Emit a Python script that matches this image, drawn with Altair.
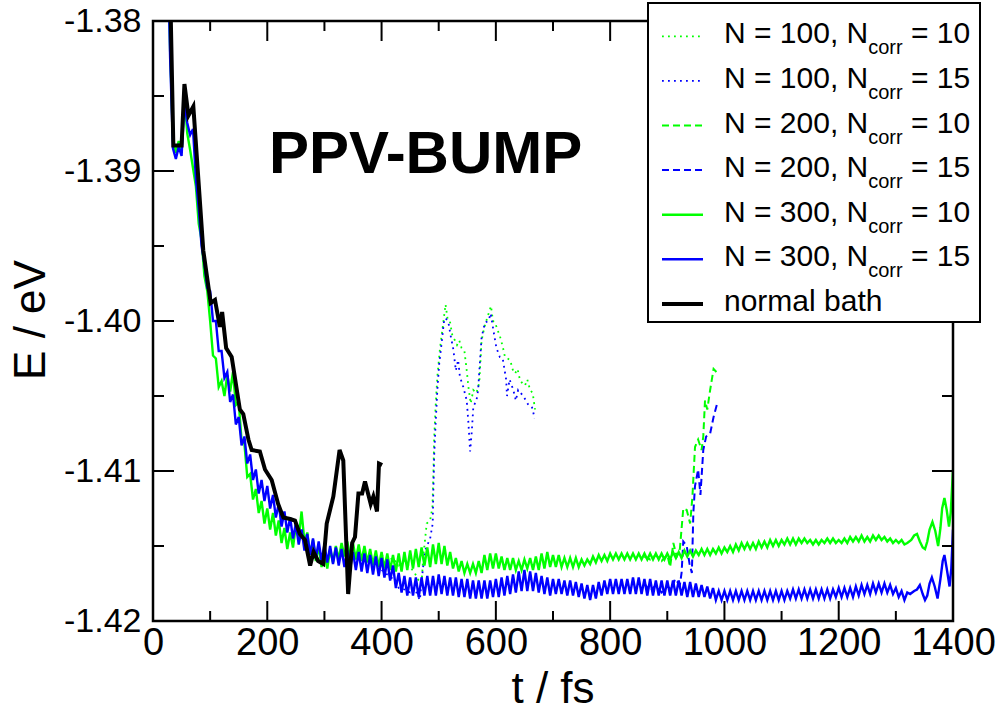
import altair as alt
import pandas as pd

FONT = "Liberation Sans"
GREEN = "#00ff00"
BLUE = "#0000ff"

# ---------------- data (energies in meV, times in fs) ----------------
# N = 300 runs: regular 5 fs grid starting at 20 fs (26 rows x 10 values), then an explicit tail
GRID_T0, GRID_STEP = 20, 5

g300_meV = [
    -1366.0, -1374.0, -1382.0, -1388.0, -1388.8, -1388.0, -1388.8, -1385.0, -1387.5, -1388.6,
    -1389.8, -1391.0, -1393.5, -1394.6, -1397.0, -1398.0, -1400.0, -1402.3, -1402.5, -1404.4,
    -1404.0, -1405.0, -1403.6, -1404.7, -1403.4, -1405.6, -1405.4, -1408.0, -1408.2, -1410.4,
    -1410.2, -1411.9, -1411.2, -1412.8, -1412.0, -1413.5, -1412.5, -1413.9, -1412.8, -1414.3,
    -1413.3, -1414.8, -1413.8, -1415.2, -1414.1, -1415.1, -1413.6, -1414.5, -1412.7, -1414.7,
    -1414.1, -1415.6, -1414.6, -1416.0, -1415.0, -1416.4, -1415.4, -1416.5, -1415.2, -1416.1,
    -1415.0, -1415.9, -1414.8, -1415.7, -1414.7, -1415.8, -1414.8, -1415.9, -1414.9, -1416.0,
    -1415.0, -1416.1, -1415.2, -1416.3, -1415.3, -1416.4, -1415.4, -1416.5, -1415.5, -1416.6,
    -1415.6, -1416.7, -1415.5, -1416.7, -1415.4, -1416.6, -1415.3, -1416.5, -1415.2, -1416.4,
    -1415.1, -1416.3, -1415.1, -1416.4, -1414.9, -1416.2, -1414.8, -1416.2, -1415.0, -1416.3,
    -1415.4, -1416.5, -1415.8, -1416.7, -1416.0, -1416.8, -1416.2, -1416.8, -1416.2, -1416.8,
    -1416.0, -1416.8, -1415.6, -1416.6, -1415.5, -1416.5, -1415.5, -1416.5, -1415.7, -1416.6,
    -1415.8, -1416.6, -1415.8, -1416.6, -1416.0, -1416.6, -1415.9, -1416.5, -1415.8, -1416.6,
    -1415.7, -1416.6, -1415.5, -1416.5, -1415.4, -1416.4, -1415.6, -1416.4, -1415.6, -1416.4,
    -1415.8, -1416.4, -1415.8, -1416.4, -1415.8, -1416.4, -1415.9, -1416.3, -1415.9, -1416.2,
    -1415.7, -1416.1, -1415.6, -1416.0, -1415.6, -1416.0, -1415.5, -1415.9, -1415.5, -1415.9,
    -1415.5, -1415.9, -1415.5, -1415.9, -1415.5, -1415.9, -1415.5, -1415.9, -1415.5, -1415.9,
    -1415.5, -1415.9, -1415.5, -1415.9, -1415.5, -1415.9, -1415.5, -1415.9, -1415.4, -1415.8,
    -1415.4, -1415.8, -1415.3, -1415.7, -1415.3, -1415.7, -1415.3, -1415.6, -1415.2, -1415.6,
    -1415.2, -1415.6, -1415.2, -1415.5, -1415.1, -1415.5, -1415.1, -1415.4, -1415.0, -1415.4,
    -1414.9, -1415.3, -1414.8, -1415.2, -1414.8, -1415.2, -1414.8, -1415.2, -1414.7, -1415.1,
    -1414.7, -1415.1, -1414.6, -1415.0, -1414.6, -1415.0, -1414.6, -1414.9, -1414.5, -1414.9,
    -1414.5, -1414.9, -1414.5, -1414.8, -1414.5, -1414.8, -1414.6, -1414.9, -1414.6, -1414.9,
    -1414.6, -1414.8, -1414.5, -1414.8, -1414.5, -1414.8, -1414.6, -1414.8, -1414.5, -1414.8,
    -1414.4, -1414.7, -1414.4, -1414.7, -1414.3, -1414.7, -1414.4, -1414.7, -1414.3, -1414.6,
    -1414.3, -1414.6, -1414.4, -1414.7, -1414.5, -1414.8, -1414.6, -1414.8, -1414.6, -1414.9,
]
g300_tail_t = [1320, 1327, 1332, 1337, 1342, 1347, 1351, 1355, 1359, 1364, 1369, 1374, 1378, 1381, 1385, 1389, 1393, 1396, 1400]
g300_tail_meV = [-1414.8, -1414.6, -1414.3, -1414.2, -1414.7, -1415.1, -1415.2, -1414.7, -1413.9, -1413.4,
                 -1414.0, -1415.0, -1413.8, -1412.5, -1411.8, -1412.6, -1413.7, -1412.8, -1409.9]

b300_meV = [
    -1366.0, -1374.0, -1382.5, -1388.5, -1389.2, -1388.4, -1389.0, -1385.5, -1386.8, -1387.6,
    -1387.2, -1390.5, -1392.5, -1395.0, -1396.2, -1397.8, -1398.0, -1400.0, -1400.0, -1402.0,
    -1402.0, -1403.8, -1403.4, -1405.4, -1404.9, -1406.9, -1406.4, -1408.3, -1407.7, -1409.5,
    -1408.9, -1410.6, -1409.9, -1411.5, -1410.6, -1412.0, -1411.0, -1412.5, -1411.6, -1413.1,
    -1412.2, -1413.7, -1412.7, -1414.1, -1413.1, -1414.5, -1413.5, -1414.9, -1413.9, -1415.3,
    -1414.2, -1415.6, -1414.5, -1415.8, -1414.7, -1416.0, -1414.9, -1416.1, -1415.0, -1416.2,
    -1415.1, -1416.3, -1415.2, -1416.4, -1415.3, -1416.5, -1415.4, -1416.6, -1415.4, -1416.7,
    -1415.5, -1416.8, -1415.6, -1416.9, -1415.7, -1417.0, -1415.8, -1417.1, -1415.9, -1417.3,
    -1416.3, -1417.8, -1416.8, -1418.1, -1417.0, -1418.3, -1417.1, -1418.3, -1417.1, -1418.4,
    -1417.1, -1418.3, -1417.0, -1418.3, -1417.0, -1418.3, -1416.9, -1418.2, -1417.0, -1418.3,
    -1417.1, -1418.3, -1417.1, -1418.4, -1417.2, -1418.4, -1417.2, -1418.5, -1417.3, -1418.5,
    -1417.3, -1418.5, -1417.3, -1418.5, -1417.3, -1418.4, -1417.2, -1418.4, -1417.1, -1418.3,
    -1417.0, -1418.2, -1416.9, -1418.1, -1416.7, -1418.0, -1416.6, -1418.0, -1416.7, -1418.0,
    -1416.8, -1418.1, -1417.0, -1418.2, -1417.1, -1418.3, -1417.2, -1418.2, -1417.2, -1418.2,
    -1417.3, -1418.3, -1417.3, -1418.3, -1417.4, -1418.4, -1417.5, -1418.5, -1417.6, -1418.6,
    -1417.6, -1418.5, -1417.4, -1418.3, -1417.3, -1418.2, -1417.2, -1418.2, -1417.2, -1418.2,
    -1417.2, -1418.2, -1417.2, -1418.2, -1417.1, -1418.2, -1417.1, -1418.2, -1417.2, -1418.3,
    -1417.2, -1418.3, -1417.3, -1418.3, -1417.3, -1418.3, -1417.3, -1418.3, -1417.3, -1418.3,
    -1417.3, -1418.3, -1417.4, -1418.4, -1417.4, -1418.4, -1417.5, -1418.4, -1417.6, -1418.4,
    -1417.7, -1418.5, -1417.8, -1418.6, -1418.0, -1418.6, -1418.0, -1418.6, -1418.0, -1418.6,
    -1418.0, -1418.6, -1418.0, -1418.6, -1418.0, -1418.6, -1418.0, -1418.6, -1418.0, -1418.6,
    -1418.0, -1418.6, -1418.0, -1418.6, -1418.0, -1418.6, -1418.0, -1418.6, -1418.0, -1418.5,
    -1417.9, -1418.5, -1417.9, -1418.5, -1417.9, -1418.5, -1417.9, -1418.5, -1417.9, -1418.5,
    -1417.9, -1418.5, -1417.9, -1418.5, -1417.9, -1418.4, -1417.8, -1418.4, -1417.8, -1418.4,
    -1417.8, -1418.4, -1417.7, -1418.3, -1417.6, -1418.2, -1417.6, -1418.2, -1417.5, -1418.1,
    -1417.5, -1418.1, -1417.5, -1418.1, -1417.6, -1418.2, -1417.8, -1418.4, -1418.0, -1418.6,
]
b300_tail_t = [1320, 1325, 1332, 1337, 1342, 1347, 1351, 1355, 1359, 1363, 1368, 1373, 1378, 1382, 1385, 1389, 1394, 1397, 1400]
b300_tail_meV = [-1418.1, -1418.2, -1418.0, -1417.9, -1417.6, -1418.2, -1418.6, -1418.3, -1417.5, -1417.1,
                 -1417.7, -1418.5, -1417.2, -1416.0, -1415.6, -1416.5, -1417.7, -1416.5, -1413.9]

# N = 100 runs (dotted)
g100_t = [400, 410, 420, 430, 440, 450, 458, 465, 470, 473, 479, 485, 489, 490.6, 492, 494.6, 497.6, 502, 507, 512,
          516, 520, 524, 528.5, 532, 536, 540, 545, 549, 552, 556, 560.6, 566, 571, 575, 580, 584, 591.5, 595, 598.5,
          603, 607, 612, 616, 625, 630, 633.5, 638, 642, 647, 651, 655, 660, 664.5, 668.5]
g100_meV = [-1415.6, -1416.0, -1415.8, -1416.3, -1416.0, -1416.4, -1416.8, -1417.3, -1417.5, -1415.7, -1413.5, -1413.3,
            -1412.4, -1410.4, -1407.9, -1405.7, -1403.7, -1401.9, -1400.4, -1398.9, -1400.0, -1400.1, -1401.0, -1401.3,
            -1401.6, -1401.3, -1401.8, -1402.0, -1403.3, -1404.4, -1405.5, -1404.6, -1404.8, -1404.1, -1401.3, -1400.4,
            -1399.9, -1399.0, -1400.0, -1400.1, -1400.6, -1401.0, -1401.7, -1402.4, -1402.6, -1403.3, -1403.5, -1403.2,
            -1403.9, -1404.2, -1404.3, -1403.9, -1404.6, -1404.8, -1405.9]
b100_t = [400, 410, 420, 430, 440, 450, 458, 463, 467, 471, 476, 485, 489.5, 490.6, 492, 494.6, 497.6, 501, 505, 509,
          512, 517, 521, 525.6, 530, 534, 537, 543, 549, 552, 555, 558, 560.6, 566, 569, 572, 575, 581, 587, 591,
          595.6, 601, 607, 612, 618, 619.5, 624, 630.6, 635, 639, 648, 657, 663, 668]
b100_meV = [-1416.6, -1416.9, -1417.2, -1417.8, -1417.9, -1418.1, -1417.8, -1418.3, -1418.6, -1417.0, -1415.3, -1414.5,
            -1413.5, -1411.3, -1409.0, -1406.8, -1404.6, -1402.8, -1401.5, -1400.1, -1399.8, -1400.1, -1401.0, -1401.9,
            -1403.3, -1402.6, -1403.7, -1404.4, -1405.3, -1406.8, -1408.7, -1407.3, -1405.7, -1405.3, -1404.6, -1402.8,
            -1401.1, -1400.1, -1400.0, -1399.5, -1400.6, -1401.8, -1402.4, -1402.5, -1403.9, -1405.0, -1403.9, -1404.6,
            -1405.3, -1404.6, -1405.0, -1405.6, -1405.7, -1406.5]

# N = 200 runs (dashed)
g200_t = [860, 870, 880, 890, 900, 905, 910.6, 916.5, 922, 928, 934, 940, 944, 948.5, 954, 960, 963, 966, 970, 975, 981, 986]
g200_meV = [-1415.7, -1415.9, -1415.6, -1416.0, -1415.6, -1416.4, -1414.8, -1415.7, -1415.2, -1412.5, -1412.6,
            -1413.5, -1411.7, -1408.4, -1407.9, -1408.6, -1407.7, -1405.3, -1405.9, -1404.6, -1403.2, -1403.4]
b200_t = [860, 870, 880, 890, 900, 908, 913.5, 922, 925, 928, 934, 939, 943, 945.6, 948.5, 954, 958, 963, 968, 975, 981, 988]
b200_meV = [-1417.5, -1418.0, -1417.6, -1418.1, -1417.7, -1417.9, -1417.2, -1417.6, -1416.8, -1414.7, -1415.0,
            -1416.2, -1416.8, -1412.8, -1411.0, -1409.9, -1411.6, -1408.6, -1407.7, -1407.5, -1406.4, -1405.4]

# normal bath (black)
bath_t = [27, 35.6, 50, 55, 62, 70.6, 88, 101, 108.5, 117, 121, 128, 137.7, 152, 158, 167, 172.7, 187, 196, 207.7,
          219, 228, 240, 248.5, 257, 266, 275, 281, 289, 298, 304, 315.6, 326.5, 333, 341.5, 348.5, 353.5, 359.5,
          366, 371, 381, 385.6, 392, 395.5, 401]
bath_meV = [-1372.0, -1388.3, -1388.3, -1384.2, -1386.3, -1385.7, -1395.3, -1398.8, -1398.6, -1400.4, -1399.4,
            -1401.8, -1402.4, -1405.9, -1406.2, -1407.9, -1408.6, -1408.7, -1409.9, -1410.6, -1412.2, -1413.1,
            -1413.2, -1413.3, -1414.2, -1414.6, -1416.3, -1415.4, -1416.0, -1416.2, -1413.5, -1411.7, -1408.6,
            -1409.3, -1418.2, -1414.8, -1414.4, -1411.5, -1411.5, -1410.7, -1412.2, -1411.7, -1412.7, -1409.5,
            -1409.6]

# axes
X_MAJOR = [0, 200, 400, 600, 800, 1000, 1200, 1400]
X_MINOR = [100, 300, 500, 700, 900, 1100, 1300]
Y_MAJOR = [-1.42, -1.41, -1.40, -1.39, -1.38]
Y_MINOR = [-1.415, -1.405, -1.395, -1.385]

ANNOT_T, ANNOT_E, ANNOT_TEXT = [477], [-1.3901], ["PPV-BUMP"]

LEGEND_ROWS = [
    ("N = 100, N", "corr", "= 10", GREEN, [1.8, 4.2], 1.8),
    ("N = 100, N", "corr", "= 15", BLUE, [1.8, 4.2], 1.8),
    ("N = 200, N", "corr", "= 10", GREEN, [7, 4], 2),
    ("N = 200, N", "corr", "= 15", BLUE, [7, 4], 2),
    ("N = 300, N", "corr", "= 10", GREEN, None, 2.5),
    ("N = 300, N", "corr", "= 15", BLUE, None, 2.5),
    ("normal bath", None, None, "black", None, 4),
]


def frame(t, meV):
    return pd.DataFrame({"t": t, "E": [v / 1000.0 for v in meV]})


def grid_t(n):
    return [GRID_T0 + GRID_STEP * i for i in range(n)]


df_g300 = frame(grid_t(len(g300_meV)) + g300_tail_t, g300_meV + g300_tail_meV)
df_b300 = frame(grid_t(len(b300_meV)) + b300_tail_t, b300_meV + b300_tail_meV)
df_g100 = frame(g100_t, g100_meV)
df_b100 = frame(b100_t, b100_meV)
df_g200 = frame(g200_t, g200_meV)
df_b200 = frame(b200_t, b200_meV)
df_bath = frame(bath_t, bath_meV)

W, H = 800, 600
xscale = alt.Scale(domain=[0, 1400], nice=False, zero=False)
yscale = alt.Scale(domain=[-1.42, -1.38], nice=False, zero=False)

x_axis = alt.Axis(values=X_MAJOR, format="d", ticks=False, tickSize=0, domain=False, grid=False,
                  labelFont=FONT, labelFontSize=38, labelColor="black", labelPadding=3,
                  labelFlush=False, labelOverlap=False, title=None)
y_axis = alt.Axis(values=Y_MAJOR, ticks=False, tickSize=0, domain=False, grid=False,
                  labelExpr="'-' + format(-datum.value, '.2f')",
                  labelFont=FONT, labelFontSize=34, labelColor="black", labelPadding=12,
                  labelFlush=False, labelOverlap=False, title=None)

X = alt.X("t:Q", scale=xscale, axis=x_axis)
Y = alt.Y("E:Q", scale=yscale, axis=y_axis)


def line(df, color, width, dash=None):
    kw = dict(color=color, strokeWidth=width, clip=True, interpolate="linear")
    if dash:
        kw["strokeDash"] = dash
    return alt.Chart(df).mark_line(**kw).encode(x=X, y=Y)


layers = [
    line(df_g100, GREEN, 1.8, [1.8, 4.2]),
    line(df_b100, BLUE, 1.8, [1.8, 4.2]),
    line(df_g200, GREEN, 2, [7, 4]),
    line(df_b200, BLUE, 2, [7, 4]),
    line(df_g300, GREEN, 2.4),
    line(df_b300, BLUE, 2.4),
    line(df_bath, "black", 4),
]

# inward ticks on all four sides
tx_major = pd.DataFrame({"t": X_MAJOR})
tx_minor = pd.DataFrame({"t": X_MINOR})
ty_major = pd.DataFrame({"E": Y_MAJOR})
ty_minor = pd.DataFrame({"E": Y_MINOR})
for d, L in ((tx_major, 20), (tx_minor, 10)):
    layers.append(alt.Chart(d).mark_rule(color="black", strokeWidth=2).encode(x=X, y=alt.value(H), y2=alt.value(H - L)))
    layers.append(alt.Chart(d).mark_rule(color="black", strokeWidth=2).encode(x=X, y=alt.value(0), y2=alt.value(L)))
for d, L in ((ty_major, 21), (ty_minor, 11)):
    layers.append(alt.Chart(d).mark_rule(color="black", strokeWidth=2).encode(y=Y, x=alt.value(0), x2=alt.value(L)))
    layers.append(alt.Chart(d).mark_rule(color="black", strokeWidth=2).encode(y=Y, x=alt.value(W), x2=alt.value(W - L)))

dummy = pd.DataFrame({"d": [0]})

# frame
layers.append(alt.Chart(dummy).mark_rect(fillOpacity=0, stroke="black", strokeWidth=2.5).encode(
    x=alt.value(0), x2=alt.value(W), y=alt.value(0), y2=alt.value(H)))

# annotation
ann = pd.DataFrame({"t": ANNOT_T, "E": ANNOT_E, "label": ANNOT_TEXT})
layers.append(alt.Chart(ann).mark_text(font=FONT, fontSize=60, fontWeight="bold", color="black",
                                       align="center", baseline="alphabetic").encode(x=X, y=Y, text="label:N"))

# axis titles
layers.append(alt.Chart(dummy).mark_text(text="t / fs", font=FONT, fontSize=44, color="black",
                                         align="center", baseline="alphabetic").encode(x=alt.value(400), y=alt.value(682)))
layers.append(alt.Chart(dummy).mark_text(text="E / eV", font=FONT, fontSize=44, color="black", angle=270,
                                         align="center", baseline="alphabetic").encode(x=alt.value(-108), y=alt.value(299)))

# legend
CW = {"N": 722, " ": 278, "=": 584, "0": 556, "1": 556, "2": 556, "3": 556, "5": 556, ",": 278,
      "c": 500, "o": 556, "r": 333}


def tw(s, size):
    return sum(CW.get(ch, 556) for ch in s) * size / 1000.0


F_MAIN, F_SUB = 30, 20
LX0, LY0, LSTEP = 571, 22.3, 44.6
layers.append(alt.Chart(dummy).mark_rect(fill="white", stroke="black", strokeWidth=2).encode(
    x=alt.value(495), x2=alt.value(827), y=alt.value(-18), y2=alt.value(301)))
for i, (a, sub, b, col, dash, sw) in enumerate(LEGEND_ROWS):
    base = LY0 + LSTEP * i
    kw = dict(color=col, strokeWidth=sw)
    if dash:
        kw["strokeDash"] = dash
    layers.append(alt.Chart(dummy).mark_rule(**kw).encode(
        x=alt.value(509), x2=alt.value(550), y=alt.value(base - 7)))
    layers.append(alt.Chart(dummy).mark_text(text=a, font=FONT, fontSize=F_MAIN, color="black", align="left",
                                             baseline="alphabetic").encode(x=alt.value(LX0), y=alt.value(base)))
    if sub:
        x1 = LX0 + tw(a, F_MAIN)
        layers.append(alt.Chart(dummy).mark_text(text=sub, font=FONT, fontSize=F_SUB, color="black", align="left",
                                                 baseline="alphabetic").encode(x=alt.value(x1), y=alt.value(base + 11)))
        x2 = x1 + tw(sub, F_SUB) + tw(" ", F_MAIN)
        layers.append(alt.Chart(dummy).mark_text(text=b, font=FONT, fontSize=F_MAIN, color="black", align="left",
                                                 baseline="alphabetic").encode(x=alt.value(x2), y=alt.value(base)))

chart = alt.layer(*layers).properties(
    width=W, height=H,
    autosize=alt.AutoSizeParams(type="none"),
    padding={"left": 153, "top": 21, "right": 48, "bottom": 91},
    background="white",
).configure_view(stroke=None)

chart.save("out.html", embed_options={"renderer": "svg", "actions": False})
